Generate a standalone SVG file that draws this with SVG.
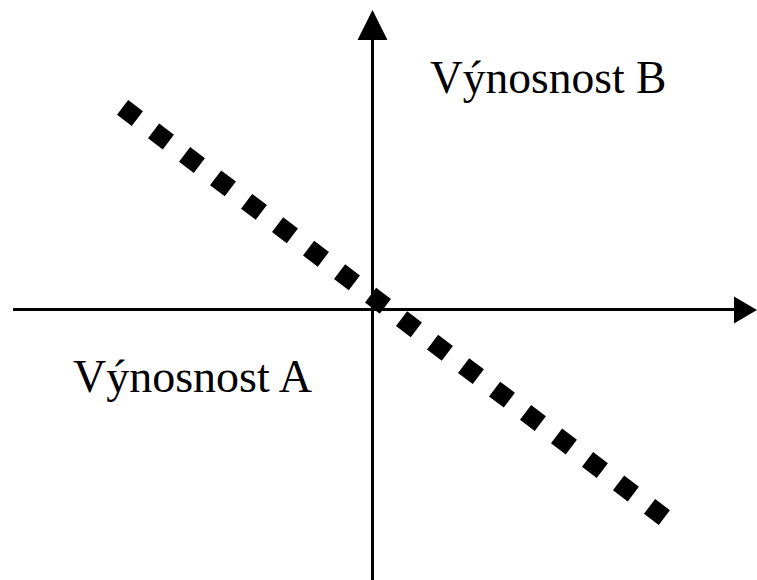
<svg xmlns="http://www.w3.org/2000/svg" width="757" height="580" viewBox="0 0 757 580">
<style>
.axis{stroke:#000;stroke-width:3;fill:none}
.head{fill:#000}
.lbl{font-family:"Liberation Serif","Times New Roman",serif;font-size:45px;fill:#000}
.dots{stroke:#000;stroke-width:18.5;stroke-dasharray:18.5 20.38;fill:none}
</style>
<rect width="757" height="580" fill="#fff"/>
<g id="connectors">
<line class="axis" x1="372.5" y1="36" x2="372.5" y2="580"/>
<polygon class="head" points="372.5,10 357.5,40 387.5,40"/>
<line class="axis" x1="13" y1="309.5" x2="738" y2="309.5"/>
<polygon class="head" points="757,310 734,296.5 734,323.5"/>
<line class="dots" x1="122.6" y1="107.4" x2="664.4" y2="517.6"/>
</g>
<g id="label-b"><text class="lbl" x="430" y="93" style="font-size:45.5px">Výnosnost B</text></g>
<g id="label-a"><text class="lbl" x="73" y="392" style="font-size:46px">Výnosnost A</text></g>
</svg>
